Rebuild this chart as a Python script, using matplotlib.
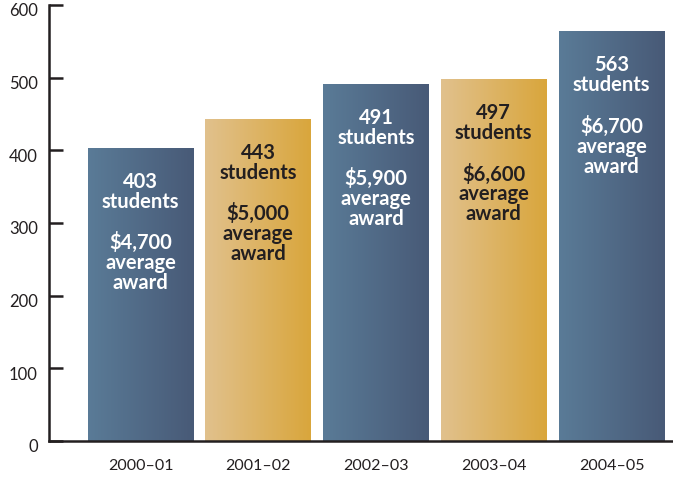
import matplotlib.pyplot as plt
import matplotlib.transforms as mtransforms
import numpy as np
from matplotlib.colors import LinearSegmentedColormap

# data
years = ["2000\u201301", "2001\u201302", "2002\u201303", "2003\u201304", "2004\u201305"]
students = [403, 443, 491, 497, 563]
awards = ["$4,700", "$5,000", "$5,900", "$6,600", "$6,700"]
styles = ["blue", "gold", "blue", "gold", "blue"]

blue = LinearSegmentedColormap.from_list("blue", ["#5a7b97", "#485a77"])
gold = LinearSegmentedColormap.from_list("gold", ["#e1c18d", "#d9a63c"])
ink = "#231f20"

plt.rcParams['font.family'] = ['Lato', 'DejaVu Sans']

fig = plt.figure(figsize=(6.73, 4.79), dpi=100)
ax = fig.add_axes([49 / 673, 38 / 479, 1 - 49 / 673, 436 / 479])

x = np.arange(len(years))
bars = ax.bar(x, students, width=0.9, color="none", edgecolor="none")

grad = np.linspace(0, 1, 256).reshape(1, -1)
for rect, st in zip(bars, styles):
    x0, w, h = rect.get_x(), rect.get_width(), rect.get_height()
    ax.imshow(grad, cmap=blue if st == "blue" else gold, aspect="auto",
              extent=[x0, x0 + w, 0, h], zorder=2)

for xi, n, a, st in zip(x, students, awards, styles):
    ax.annotate(f"{n}\nstudents\n\n{a}\naverage\naward", xy=(xi, n),
                xytext=(0, -17), textcoords="offset points",
                ha="center", va="top", fontsize=14.5, fontweight="bold",
                linespacing=1.0, color="white" if st == "blue" else ink,
                zorder=3)

ax.set_xlim(-0.777, 4.522)
ax.set_ylim(0, 600)
ax.set_yticks(range(0, 601, 100))
ax.set_xticks(x)
ax.set_xticklabels(years)

for s in ["top", "right"]:
    ax.spines[s].set_visible(False)
for s in ["left", "bottom"]:
    ax.spines[s].set_linewidth(1.8)
    ax.spines[s].set_color(ink)

ax.tick_params(axis="y", direction="in", length=10, width=1.8, color=ink,
               pad=8, labelsize=12, labelcolor=ink)
ax.tick_params(axis="x", length=0, pad=13, labelsize=11.5, labelcolor=ink)

shift = mtransforms.ScaledTranslation(0, -5 / 100, fig.dpi_scale_trans)
for lab in ax.get_yticklabels():
    lab.set_transform(lab.get_transform() + shift)

fig.savefig("out.png", dpi=100)
